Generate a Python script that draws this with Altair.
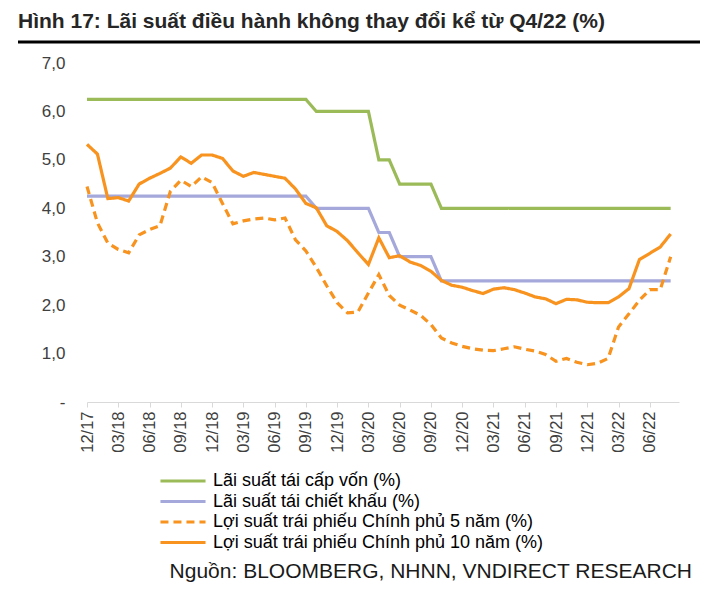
import json
import altair as alt
import pandas as pd

title_text = "Hình 17: Lãi suất điều hành không thay đổi kể từ Q4/22 (%)"
source_text = "Nguồn: BLOOMBERG, NHNN, VNDIRECT RESEARCH"

quarter_labels = ["12/17", "03/18", "06/18", "09/18", "12/18", "03/19", "06/19",
                  "09/19", "12/19", "03/20", "06/20", "09/20", "12/20", "03/21",
                  "06/21", "09/21", "12/21", "03/22", "06/22"]
y_ticks = [0, 1, 2, 3, 4, 5, 6, 7]

series_names = ["Lãi suất tái cấp vốn (%)",
                "Lãi suất tái chiết khấu (%)",
                "Lợi suất trái phiếu Chính phủ 5 năm (%)",
                "Lợi suất trái phiếu Chính phủ 10 năm (%)"]
series_colors = ["#9BBB59", "#A5A8DA", "#F7931E", "#F7931E"]
series_dash = [[1, 0], [1, 0], [8, 5], [1, 0]]

# monthly, 12/17 .. 08/22
refinancing = [6.25, 6.25, 6.25, 6.25, 6.25, 6.25, 6.25, 6.25, 6.25, 6.25,
               6.25, 6.25, 6.25, 6.25, 6.25, 6.25, 6.25, 6.25, 6.25, 6.25,
               6.25, 6.25, 6.0, 6.0, 6.0, 6.0, 6.0, 6.0, 5.0, 5.0,
               4.5, 4.5, 4.5, 4.5, 4.0, 4.0, 4.0, 4.0, 4.0, 4.0,
               4.0, 4.0, 4.0, 4.0, 4.0, 4.0, 4.0, 4.0, 4.0, 4.0,
               4.0, 4.0, 4.0, 4.0, 4.0, 4.0, 4.0]
discount = [4.25, 4.25, 4.25, 4.25, 4.25, 4.25, 4.25, 4.25, 4.25, 4.25,
            4.25, 4.25, 4.25, 4.25, 4.25, 4.25, 4.25, 4.25, 4.25, 4.25,
            4.25, 4.25, 4.0, 4.0, 4.0, 4.0, 4.0, 4.0, 3.5, 3.5,
            3.0, 3.0, 3.0, 3.0, 2.5, 2.5, 2.5, 2.5, 2.5, 2.5,
            2.5, 2.5, 2.5, 2.5, 2.5, 2.5, 2.5, 2.5, 2.5, 2.5,
            2.5, 2.5, 2.5, 2.5, 2.5, 2.5, 2.5]
bond5 = [4.45, 3.70, 3.28, 3.15, 3.08, 3.45, 3.56, 3.64, 4.35, 4.58,
         4.45, 4.65, 4.53, 4.10, 3.68, 3.74, 3.78, 3.80, 3.76, 3.80,
         3.35, 3.12, 2.78, 2.40, 2.05, 1.84, 1.86, 2.25, 2.63, 2.20,
         2.00, 1.90, 1.79, 1.60, 1.32, 1.22, 1.15, 1.10, 1.07, 1.06,
         1.10, 1.14, 1.09, 1.05, 0.98, 0.84, 0.90, 0.82, 0.77, 0.80,
         0.90, 1.55, 1.82, 2.10, 2.32, 2.32, 3.00]
bond10 = [5.32, 5.12, 4.20, 4.22, 4.15, 4.50, 4.62, 4.72, 4.83, 5.06,
          4.93, 5.10, 5.10, 5.03, 4.77, 4.66, 4.74, 4.70, 4.66, 4.62,
          4.40, 4.10, 4.01, 3.64, 3.52, 3.33, 3.08, 2.84, 3.39, 2.98,
          3.02, 2.89, 2.82, 2.70, 2.51, 2.41, 2.37, 2.30, 2.24, 2.33,
          2.36, 2.32, 2.25, 2.17, 2.13, 2.03, 2.12, 2.11, 2.06, 2.05,
          2.05, 2.17, 2.34, 2.94, 3.07, 3.20, 3.47]

rows = []
for name, vals in zip(series_names, [refinancing, discount, bond5, bond10]):
    for i, v in enumerate(vals):
        rows.append({"m": i, "series": name, "v": v})
df = pd.DataFrame(rows)

W, H = 592, 339
FONT = "Liberation Sans"

leg = alt.Legend(orient="none", legendX=87, legendY=409, direction="vertical",
                 title=None, symbolType="M-4,0L4,0", symbolSize=127,
                 symbolStrokeWidth=3, labelFont=FONT, labelFontSize=18,
                 labelColor="#000000", labelOffset=21, rowPadding=2.5,
                 padding=0, labelLimit=600)

x_label_expr = json.dumps(quarter_labels) + "[datum.value / 3]"

lines = alt.Chart(df).mark_line(strokeWidth=3.2).encode(
    x=alt.X("m:Q", title=None,
            scale=alt.Scale(domain=[0, 56.8], nice=False, zero=False),
            axis=alt.Axis(values=list(range(0, 3 * len(quarter_labels), 3)),
                          labelExpr=x_label_expr, labelAngle=-90,
                          labelFont=FONT, labelFontSize=16.5, labelColor="#404040",
                          labelPadding=4, grid=False, domainColor="#D9D9D9",
                          tickColor="#D9D9D9", tickSize=5)),
    y=alt.Y("v:Q", title=None,
            scale=alt.Scale(domain=[0, 7], nice=False),
            axis=alt.Axis(values=y_ticks, grid=False, domain=False, ticks=False,
                          labelExpr="datum.value == 0 ? '-' : replace(format(datum.value, '.1f'), '.', ',')",
                          labelFont=FONT, labelFontSize=17, labelColor="#404040",
                          labelPadding=22)),
    color=alt.Color("series:N", sort=series_names,
                    scale=alt.Scale(domain=series_names, range=series_colors),
                    legend=leg),
    strokeDash=alt.StrokeDash("series:N", sort=series_names,
                              scale=alt.Scale(domain=series_names, range=series_dash),
                              legend=leg),
)

title_layer = alt.Chart(pd.DataFrame({"t": [title_text]})).mark_text(
    align="left", baseline="alphabetic", font=FONT, fontSize=21,
    fontWeight="bold", color="#262626"
).encode(text="t:N", x=alt.value(-69), y=alt.value(-35))

rule_layer = alt.Chart(pd.DataFrame({"t": [0]})).mark_rule(
    color="#000000", strokeWidth=3
).encode(x=alt.value(-69), x2=alt.value(613), y=alt.value(-21))

source_layer = alt.Chart(pd.DataFrame({"t": [source_text]})).mark_text(
    align="right", baseline="alphabetic", font=FONT, fontSize=21,
    color="#1A1A1A"
).encode(text="t:N", x=alt.value(605), y=alt.value(515))

chart = alt.layer(lines, title_layer, rule_layer, source_layer).properties(
    width=W, height=H,
    autosize=alt.AutoSizeParams(type="none"),
    padding={"left": 79, "top": 55, "right": 31, "bottom": 180},
).configure_view(stroke=None)

chart.save("out.html", embed_options={"renderer": "svg", "actions": False})
